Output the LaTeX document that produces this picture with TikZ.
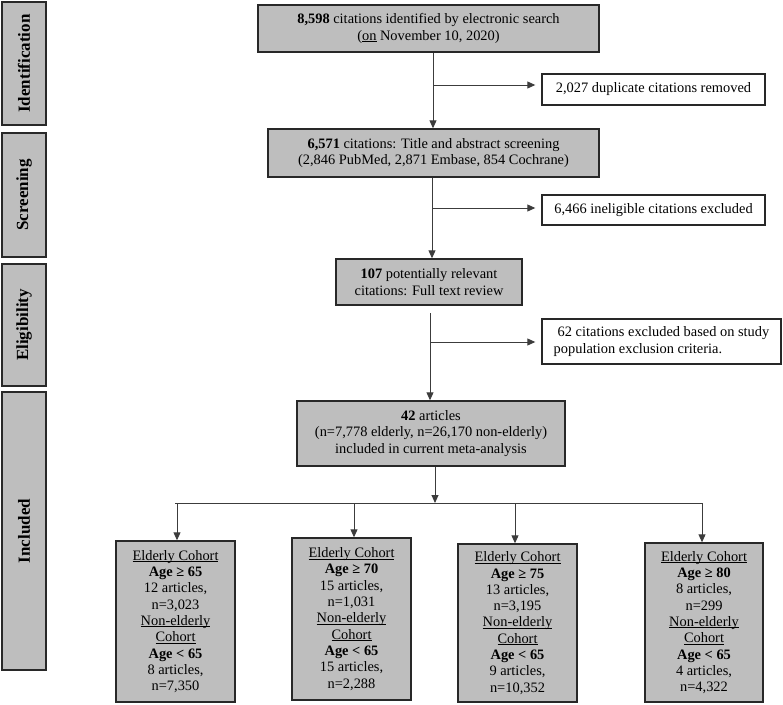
\documentclass[tikz,border=0pt]{standalone}
\usepackage{fontspec}
\setmainfont{Liberation Serif}
\usetikzlibrary{arrows.meta}
\definecolor{boxgray}{RGB}{190,190,190}
\definecolor{edgec}{RGB}{40,40,40}
\definecolor{linec}{RGB}{60,60,60}
\newcommand{\myul}[1]{\setbox0=\hbox{#1}\leavevmode\rlap{\rule[-1.7pt]{\wd0}{0.7pt}}\box0\relax}
\begin{document}
\begin{tikzpicture}[x=1pt,y=-1pt,
 box/.style={draw=edgec, line width=1.4pt, fill=boxgray, inner sep=0pt, align=center, font=\fontsize{14.4}{16.3}\selectfont},
 wbox/.style={draw=edgec, line width=1.4pt, fill=white, inner sep=0pt, align=left, font=\fontsize{14.4}{16.3}\selectfont},
 side/.style={draw=edgec, line width=1.4pt, fill=boxgray, minimum height=44pt, inner sep=0pt, rotate=90, font=\fontsize{17}{20}\selectfont\bfseries},
 arr/.style={draw=linec, line width=0.9pt, -{Triangle[length=8pt,width=7pt]}},
 ln/.style={draw=linec, line width=0.9pt}]
\useasboundingbox (0,0) rectangle (783,704);

% side labels
\node[side, minimum width=123pt] (sid) at (24,63.5) {Identification};
\node[side, minimum width=124pt] (ssc) at (24,195) {Screening};
\node[side, minimum width=122pt] (sel) at (24,325) {Eligibility};
\node[side, minimum width=278pt] (sin) at (24,531) {Included};

% main column
\node[box, minimum width=341pt, minimum height=47pt] (n1) at (428.5,28.5)
  {\textbf{8,598} citations identified by electronic search\\(\myul{on} November 10, 2020)};
\node[box, minimum width=331pt, minimum height=48pt] (n2) at (433.5,153)
  {\textbf{6,571} citations: Title and abstract screening\\(2,846 PubMed, 2,871 Embase, 854 Cochrane)};
\node[box, minimum width=186pt, minimum height=46pt] (n3) at (429,282)
  {\textbf{107} potentially relevant\\citations: Full text review};
\node[box, minimum width=268pt, minimum height=65pt] (n4) at (431,433.5)
  {\textbf{42} articles\\(n=7,778 elderly, n=26,170 non-elderly)\\included in current meta-analysis};

% exclusion boxes
\node[wbox, minimum width=223pt, minimum height=31pt] (dup) at (653.5,89.5) {2,027 duplicate citations removed};
\node[wbox, minimum width=223pt, minimum height=30pt] (inel) at (653.5,210) {6,466 ineligible citations excluded};
\node[wbox, minimum width=239pt, minimum height=45pt] (pop) at (661.5,341.5)
  {\hspace{4pt}62 citations excluded based on study\\population exclusion criteria.};

% cohort boxes
\node[box, minimum width=119pt, minimum height=161pt] (c1) at (175.5,621.5)
  {\myul{Elderly Cohort}\\\textbf{Age ≥ 65}\\12 articles,\\n=3,023\\\myul{Non-elderly}\\\myul{Cohort}\\\textbf{Age < 65}\\8 articles,\\n=7,350};
\node[box, minimum width=119pt, minimum height=162pt] (c2) at (351.5,619)
  {\myul{Elderly Cohort}\\\textbf{Age ≥ 70}\\15 articles,\\n=1,031\\\myul{Non-elderly}\\\myul{Cohort}\\\textbf{Age < 65}\\15 articles,\\n=2,288};
\node[box, minimum width=119pt, minimum height=158pt] (c3) at (517.5,623)
  {\myul{Elderly Cohort}\\\textbf{Age ≥ 75}\\13 articles,\\n=3,195\\\myul{Non-elderly}\\\myul{Cohort}\\\textbf{Age < 65}\\9 articles,\\n=10,352};
\node[box, minimum width=118pt, minimum height=159pt] (c4) at (704,622.5)
  {\myul{Elderly Cohort}\\\textbf{Age ≥ 80}\\8 articles,\\n=299\\\myul{Non-elderly}\\\myul{Cohort}\\\textbf{Age < 65}\\4 articles,\\n=4,322};

% connectors
\coordinate (t1) at (433,85);
\draw[arr] (n1.south -| t1) -- (n2.north -| t1);
\draw[arr, shorten >=6pt] (t1) -- (t1 -| dup.west);

\coordinate (t2) at (432,208);
\draw[arr] (n2.south -| t2) -- (n3.north -| t2);
\draw[arr, shorten >=6pt] (t2) -- (t2 -| inel.west);

\coordinate (s3) at (430,313);
\coordinate (t3) at (430,342);
\draw[arr] (s3) -- (n4.north -| s3);
\draw[arr, shorten >=6pt] (t3) -- (t3 -| pop.west);

\coordinate (hl) at (175,503);
\coordinate (hr) at (702,503);
\coordinate (t4) at (435,503);
\draw[ln] (hl) -- (hr);
\draw[arr] (n4.south -| t4) -- (t4);
\coordinate (d1) at (177,503);
\coordinate (d2) at (354,503);
\coordinate (d3) at (515,503);
\coordinate (d4) at (702,503);
\draw[arr] (d1) -- (d1 |- c1.north);
\draw[arr] (d2) -- (d2 |- c2.north);
\draw[arr] (d3) -- (d3 |- c3.north);
\draw[arr] (d4) -- (d4 |- c4.north);
\end{tikzpicture}
\end{document}
